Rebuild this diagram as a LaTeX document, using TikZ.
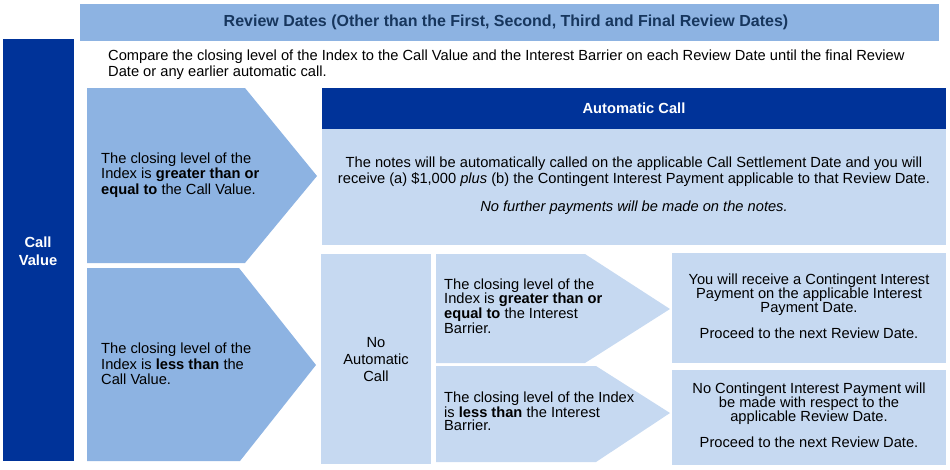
\documentclass[tikz,border=0pt]{standalone}
\usepackage{fontspec}
\setmainfont{Liberation Sans}
\usetikzlibrary{positioning}
\definecolor{navy}{HTML}{003399}
\definecolor{midblue}{HTML}{8DB3E2}
\definecolor{paleblue}{HTML}{C6D9F1}
\definecolor{headtext}{HTML}{17365D}

\begin{document}
\begin{tikzpicture}[x=1pt, y=-1pt,
  txt/.style={font=\fontsize{14.67}{15.5}\selectfont, text=black, inner sep=0pt},
  tight/.style={font=\fontsize{14.67}{13}\selectfont, text=black, inner sep=0pt},
  whitehead/.style={font=\fontsize{14.67}{18}\selectfont\bfseries, text=white, inner sep=0pt}]
  \useasboundingbox (0,0) rectangle (950,469);
  % bands and boxes
  \fill[midblue] (80,4) rectangle (939,41);
  \fill[navy] (3,39) rectangle (74,461);
  \fill[navy] (322,88) rectangle (946,129);
  \fill[paleblue] (322,129) rectangle (946,245);
  \fill[paleblue] (321,254) rectangle (431,464);
  \fill[paleblue] (672,253) rectangle (946,363);
  \fill[paleblue] (672,370) rectangle (946,465);
  % chevrons
  \fill[midblue] (87,88) -- (245,88) -- (317,176) -- (245,263) -- (87,263) -- cycle;
  \fill[midblue] (87,268) -- (239,268) -- (316,365) -- (240,461) -- (87,461) -- cycle;
  \fill[paleblue] (436,254) -- (585,254) -- (670,309) -- (585,363) -- (436,363) -- cycle;
  \fill[paleblue] (436,366) -- (596,366) -- (670,413) -- (596,462) -- (436,462) -- cycle;
  % texts
  \node[font=\fontsize{16}{18}\selectfont\bfseries, text=headtext] (title) at (506,22)
    {Review Dates (Other than the First, Second, Third and Final Review Dates)};
  \node[txt, anchor=west, align=left, font=\fontsize{14.67}{16}\selectfont] (intro) at (108,65)
    {Compare the closing level of the Index to the Call Value and the Interest Barrier on each Review Date until the final Review\\
     Date or any earlier automatic call.};
  \node[whitehead, align=center] (callvalue) at (38,251) {Call\\Value};
  \node[txt, anchor=west, align=left] (above) at (101,175)
    {The closing level of the\\Index is \textbf{greater than or}\\\textbf{equal to} the Call Value.};
  \node[txt, anchor=west, align=left] (below) at (101,364)
    {The closing level of the\\Index is \textbf{less than} the\\Call Value.};
  \node[whitehead] (autocall) at (634,108) {Automatic Call};
  \node[txt, align=center, font=\fontsize{14.67}{16}\selectfont] (autobody) at (634,186)
    {The notes will be automatically called on the applicable Call Settlement Date and you will\\
     receive (a) \$1,000 \textit{plus} (b) the Contingent Interest Payment applicable to that Review Date.\\[12pt]
     \textit{No further payments will be made on the notes.}};
  \node[txt, align=center, font=\fontsize{14.67}{17}\selectfont] (nocall) at (376,360) {No\\Automatic\\Call};
  \node[tight, anchor=west, align=left, font=\fontsize{14.67}{12}\selectfont] (barrierup) at (444,306)
    {The closing level of the\\Index is \textbf{greater than or}\\\textbf{equal to} the Interest\\Barrier.};
  \node[tight, anchor=west, align=left] (barrierdown) at (444,411)
    {The closing level of the Index\\is \textbf{less than} the Interest\\Barrier.};
  \node[tight, align=center, font=\fontsize{14.67}{14}\selectfont] (paid) at (809,306)
    {You will receive a Contingent Interest\\Payment on the applicable Interest\\Payment Date.\\[12pt]
     Proceed to the next Review Date.};
  \node[tight, align=center, font=\fontsize{14.67}{14}\selectfont] (unpaid) at (809,415)
    {No Contingent Interest Payment will\\be made with respect to the\\applicable Review Date.\\[12pt]
     Proceed to the next Review Date.};
\end{tikzpicture}
\end{document}
